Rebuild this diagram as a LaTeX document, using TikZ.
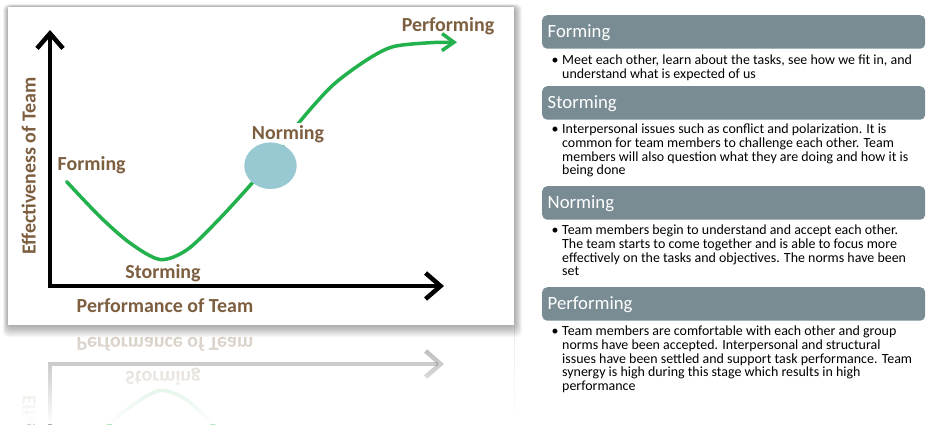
\documentclass[tikz,border=0pt]{standalone}
\usepackage{fontspec}
\setmainfont{Carlito}
\usetikzlibrary{arrows.meta,fadings,shapes.geometric}
\definecolor{lbl}{HTML}{7D5F40}
\definecolor{grn}{HTML}{22B14C}
\definecolor{barc}{HTML}{798C94}
\definecolor{blobc}{HTML}{98C9D3}
\tikzset{
  lab/.style={font=\bfseries\fontsize{20}{24}\selectfont, text=lbl, inner sep=0pt, anchor=base},
  axisline/.style={line width=4.5bp, line join=miter, arrows={Straight Barb[length=15bp,width=26bp]-Straight Barb[length=15bp,width=26bp]}},
  curveline/.style={draw=grn, line width=3.5bp, line cap=round, arrows={-Straight Barb[length=12bp,width=17bp]}},
  barbox/.style={fill=barc, rounded corners=5bp, minimum width=383bp, minimum height=33.5bp, anchor=north west, inner sep=0pt},
  headtxt/.style={font=\fontsize{18.8}{22}\selectfont, text=white, anchor=base west, inner sep=0pt},
  bodytxt/.style={font=\fontsize{14}{13.8}\selectfont, anchor=base west, inner sep=0pt},
  bul/.style={font=\fontsize{14}{13.8}\selectfont, anchor=base west, inner sep=0pt},
}
% axes and curve (also mirrored in the reflection)
\newcommand\teamgraph{%
  \coordinate (ytop) at (50,30);
  \coordinate (orig) at (50,286);
  \coordinate (xend) at (444,286);
  \draw[axisline] (ytop) -- (orig) -- (xend);
  \draw[curveline] plot[smooth, tension=0.5] coordinates {(66.7,181.7) (100,216.7) (130,243) (160,259.5) (186.7,250) (216.7,221.7) (253.3,181.7) (278,151) (302,119) (333,85) (366.7,60) (393,46.7) (430,42.7) (457,42.3)};
}
% labels near the bottom (also mirrored in the reflection)
\newcommand\teamlowlabels{%
  \node[lab] (lstorm) at (163,278.3) {Storming};
  \node[lab] (lxax) at (165,312.3) {Performance of Team};
  \node[lab, rotate=90] (lyax) at (35.5,166) {Effectiveness of Team};
}
\newcommand\teamhighlabels{%
  \node[lab] (lperf) at (448,31.5) {Performing};
  \node[lab, fill=white, inner sep=2bp] (lnorm) at (288,139.3) {Norming};
  \node[ellipse, fill=blobc, minimum width=52.4bp, minimum height=46.6bp, inner sep=0pt] (blob) at (270.5,165.7) {};
  \node[lab] (lform) at (91.7,170.7) {Forming};
}
\newcommand\bodybox[1]{\parbox[t]{380bp}{\lineskiplimit=-20pt\raggedright #1}}
\begin{document}
\begin{tikzpicture}[x=1bp,y=-1bp]
  \useasboundingbox (0,0) rectangle (936,424);
  \fill[white] (0,0) rectangle (936,424);
  % reflection
  \begin{scope}[shift={(0,650)}, yscale=-1, transform shape, opacity=0.33]
    \teamgraph
    \teamlowlabels
  \end{scope}
  \draw[black!8, line width=1bp] (514.5,326) -- (514.5,424);
  \fill[white, path fading=north] (0,325) rectangle (530,424);
  % frame shadow
  \foreach \d in {1,...,10}{
    \fill[black, opacity=0.035, rounded corners=6bp] (8-0.5*\d,7-0.3*\d) rectangle (514+0.8*\d,325+1.2*\d);
  }
  \fill[white] (8,7) rectangle (514,325);
  \teamgraph
  \teamhighlabels
  \teamlowlabels
  % right panel
  \node[barbox] (bform) at (542,15) {};
  \node[barbox] (bstorm) at (542,86) {};
  \node[barbox] (bnorm) at (542,186) {};
  \node[barbox] (bperf) at (542,287) {};
  \node[headtxt] (hform) at (547.5,37.5) {Forming};
  \node[headtxt] (hstorm) at (547.5,108.5) {Storming};
  \node[headtxt] (hnorm) at (547.5,208.5) {Norming};
  \node[headtxt] (hperf) at (547.5,309.5) {Performing};
  \node[bul] (kform) at (551.5,64.5) {•};
  \node[bul] (kstorm) at (551.5,133.5) {•};
  \node[bul] (knorm) at (551.5,234.5) {•};
  \node[bul] (kperf) at (551.5,335.5) {•};
  \node[bodytxt] (tform) at (562,64.5) {\bodybox{Meet each other, learn about the tasks, see how we fit in, and\\understand what is expected of us}};
  \node[bodytxt] (tstorm) at (562,133.5) {\bodybox{Interpersonal issues such as conflict and polarization. It is\\common for team members to challenge each other. Team\\members will also question what they are doing and how it is\\being done}};
  \node[bodytxt] (tnorm) at (562,234.5) {\bodybox{Team members begin to understand and accept each other.\\The team starts to come together and is able to focus more\\effectively on the tasks and objectives. The norms have been\\set}};
  \node[bodytxt] (tperf) at (562,335.5) {\bodybox{Team members are comfortable with each other and group\\norms have been accepted. Interpersonal and structural\\issues have been settled and support task performance. Team\\synergy is high during this stage which results in high\\performance}};
\end{tikzpicture}
\end{document}
